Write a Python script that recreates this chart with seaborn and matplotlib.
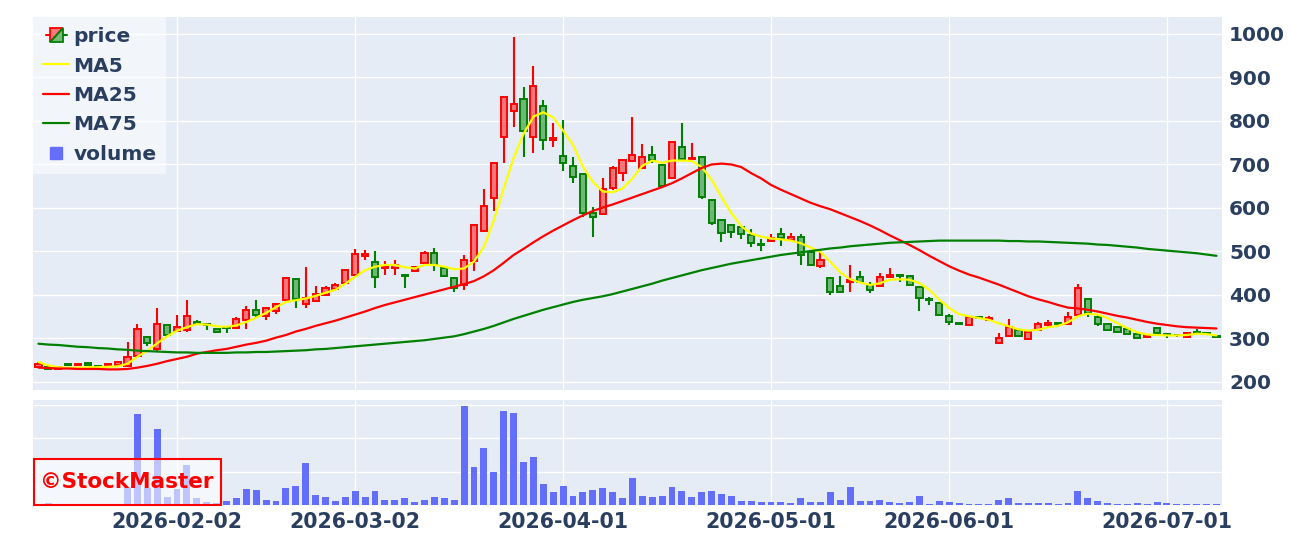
import numpy as np
import pandas as pd
import seaborn as sns
import matplotlib.pyplot as plt
from matplotlib.legend_handler import HandlerBase
from matplotlib.lines import Line2D
from matplotlib.patches import Polygon, Rectangle, Patch

# trading calendar (Tokyo), weekends and holidays are skipped on the axis
START = "2026-01-13"
END = "2026-07-08"
HOLIDAYS = ["2026-02-11", "2026-02-23", "2026-03-20", "2026-04-29",
            "2026-05-04", "2026-05-05", "2026-05-06"]
TICK_DATES = ["2026-02-02", "2026-03-02", "2026-04-01",
              "2026-05-01", "2026-06-01", "2026-07-01"]

OPEN = [235, 234, 229, 241, 239, 244, 236, 239, 238, 237,
        259, 304, 275, 331, 318, 320, 338, 333, 321, 326,
        325, 342, 365, 351, 364, 388, 436, 379, 386, 400,
        413, 428, 446, 490, 475, 462, 462, 446, 456, 473,
        497, 461, 439, 423, 477, 548, 622, 764, 824, 851,
        764, 835, 757, 720, 697, 678, 589, 586, 645, 680,
        708, 691, 721, 699, 670, 741, 713, 718, 618, 572,
        560, 556, 537, 518, 524, 541, 526, 534, 498, 466,
        439, 421, 431, 441, 423, 420, 442, 445, 444, 418,
        391, 381, 351, 335, 332, 349, 343, 290, 306, 320,
        299, 320, 332, 335, 334, 354, 390, 349, 334, 326,
        322, 311, 304, 324, 311, 309, 303, 316, 313, 306]
HIGH = [246, 236, 237, 242, 242, 245, 237, 242, 247, 291,
        333, 306, 371, 333, 354, 388, 342, 333, 322, 326,
        350, 374, 389, 373, 382, 440, 439, 465, 420, 420,
        428, 460, 505, 503, 501, 479, 480, 447, 467, 501,
        507, 467, 441, 492, 562, 643, 706, 856, 994, 879,
        927, 848, 795, 802, 718, 680, 602, 670, 697, 713,
        808, 746, 742, 701, 754, 795, 750, 720, 620, 574,
        561, 560, 551, 528, 540, 555, 542, 540, 501, 502,
        441, 444, 469, 454, 431, 450, 462, 449, 445, 421,
        396, 383, 357, 336, 352, 350, 351, 312, 345, 322,
        318, 337, 343, 336, 360, 425, 392, 353, 336, 327,
        323, 312, 308, 326, 313, 310, 314, 321, 314, 307]
LOW = [232, 229, 228, 238, 238, 238, 234, 238, 236, 235,
       257, 283, 270, 303, 315, 316, 332, 320, 313, 312,
       322, 321, 350, 343, 357, 384, 371, 369, 384, 398,
       410, 425, 442, 481, 416, 446, 447, 416, 453, 471,
       456, 441, 408, 412, 454, 546, 592, 704, 787, 718,
       726, 733, 740, 684, 657, 579, 534, 584, 642, 662,
       706, 689, 704, 648, 668, 709, 711, 621, 560, 522,
       532, 528, 511, 501, 522, 513, 524, 468, 469, 462,
       400, 405, 408, 427, 404, 418, 440, 431, 422, 364,
       377, 353, 331, 331, 330, 344, 342, 288, 304, 303,
       297, 318, 324, 331, 331, 350, 349, 328, 317, 315,
       310, 299, 303, 311, 301, 303, 302, 310, 309, 302]
CLOSE = [242, 231, 235, 239, 241, 239, 235, 241, 245, 258,
         321, 289, 333, 308, 327, 351, 334, 331, 314, 324,
         344, 365, 354, 371, 380, 438, 390, 394, 403, 417,
         424, 457, 495, 494, 441, 467, 468, 443, 465, 496,
         469, 444, 416, 481, 560, 605, 704, 854, 838, 777,
         880, 756, 760, 703, 671, 588, 579, 643, 693, 710,
         722, 718, 710, 651, 752, 712, 716, 625, 565, 543,
         545, 540, 520, 515, 532, 532, 534, 492, 470, 481,
         408, 408, 435, 431, 411, 442, 447, 443, 423, 393,
         388, 355, 337, 333, 349, 347, 347, 301, 326, 305,
         315, 334, 335, 333, 349, 416, 358, 334, 319, 316,
         311, 300, 307, 312, 309, 307, 312, 312, 311, 304]

MA5 = [246, 238, 234, 233, 233, 234, 234, 235, 236, 242,
       258, 272, 289, 305, 318, 326, 333, 332, 328, 327,
       330, 338, 348, 359, 372, 384, 388, 392, 398, 405,
       412, 426, 442, 457, 465, 469, 469, 464, 461, 469,
       469, 465, 459, 461, 477, 511, 572, 645, 715, 770,
       810, 820, 808, 778, 745, 695, 660, 638, 636, 645,
       668, 697, 709, 704, 709, 709, 708, 694, 665, 625,
       588, 558, 541, 534, 530, 528, 525, 519, 509, 499,
       476, 452, 436, 429, 423, 427, 435, 436, 435, 427,
       412, 389, 370, 356, 351, 347, 343, 335, 328, 321,
       318, 320, 326, 329, 337, 351, 357, 355, 347, 335,
       324, 314, 309, 308, 307, 307, 308, 311, 310, 307]
MA25 = [233, 232, 231, 231, 230, 230, 230, 229, 229, 230,
        233, 237, 242, 248, 253, 258, 265, 269, 273, 276,
        281, 286, 290, 295, 302, 308, 316, 322, 329, 335,
        341, 348, 355, 362, 370, 377, 383, 389, 395, 401,
        407, 413, 419, 425, 432, 443, 457, 474, 492, 506,
        521, 535, 548, 560, 572, 583, 593, 601, 608, 616,
        624, 632, 640, 648, 657, 668, 680, 692, 700, 702,
        700, 694, 680, 668, 653, 642, 632, 622, 612, 604,
        597, 588, 579, 570, 560, 549, 537, 526, 515, 503,
        490, 478, 466, 456, 447, 440, 432, 424, 415, 406,
        397, 390, 384, 377, 371, 369, 366, 362, 357, 352,
        348, 343, 338, 334, 331, 328, 326, 325, 324, 323]
MA75 = [288, 286, 285, 283, 281, 280, 278, 277, 275, 274,
        272, 271, 270, 269, 268, 268, 267, 267, 267, 267,
        268, 268, 269, 269, 270, 271, 272, 273, 275, 276,
        278, 280, 282, 284, 286, 288, 290, 292, 294, 296,
        299, 302, 305, 310, 316, 322, 329, 337, 345, 352,
        359, 366, 372, 378, 384, 389, 393, 397, 402, 408,
        414, 420, 426, 433, 439, 445, 451, 457, 462, 467,
        472, 476, 480, 484, 488, 492, 495, 498, 501, 504,
        507, 509, 512, 514, 516, 518, 520, 521, 522, 523,
        524, 525, 525, 525, 525, 525, 525, 525, 524, 524,
        523, 523, 522, 521, 520, 519, 518, 516, 515, 513,
        511, 509, 506, 504, 502, 500, 498, 496, 493, 490]

# volume, in millions of shares
VOLUME = [0.03, 0.05, 0.03, 0.02, 0.02, 0.03, 0.02, 0.02, 0.04, 0.50,
          2.73, 0.50, 2.28, 0.25, 0.47, 1.19, 0.22, 0.10, 0.05, 0.12,
          0.20, 0.48, 0.46, 0.16, 0.13, 0.51, 0.58, 1.26, 0.30, 0.23,
          0.13, 0.23, 0.42, 0.23, 0.42, 0.16, 0.16, 0.20, 0.10, 0.16,
          0.23, 0.20, 0.15, 2.98, 1.15, 1.70, 1.00, 2.81, 2.75, 1.30,
          1.43, 0.64, 0.40, 0.58, 0.28, 0.38, 0.46, 0.50, 0.38, 0.20,
          0.81, 0.28, 0.25, 0.26, 0.53, 0.41, 0.23, 0.40, 0.41, 0.33,
          0.28, 0.13, 0.13, 0.08, 0.10, 0.10, 0.06, 0.20, 0.10, 0.08,
          0.38, 0.14, 0.53, 0.12, 0.12, 0.14, 0.10, 0.06, 0.08, 0.26,
          0.03, 0.12, 0.10, 0.06, 0.04, 0.03, 0.03, 0.14, 0.22, 0.06,
          0.05, 0.05, 0.05, 0.04, 0.05, 0.41, 0.22, 0.11, 0.06, 0.03,
          0.03, 0.06, 0.03, 0.08, 0.05, 0.04, 0.04, 0.04, 0.03, 0.02]

INC_COLOR = "#ff0000"
DEC_COLOR = "#008000"
MA_COLORS = {"MA5": "#ffff00", "MA25": "#ff0000", "MA75": "#008000"}
VOL_COLOR = "#636efa"
TEXT_COLOR = "#2a3f5f"
W, H = 1291, 543


class CandleHandler(HandlerBase):
    """Little red/green candle box for the legend."""
    def create_artists(self, legend, orig_handle, xdescent, ydescent,
                       width, height, fontsize, trans):
        x0, y0 = -xdescent, -ydescent
        bw, bh = width * 0.5, height * 1.0
        bx, by = x0 + (width - bw) / 2, y0 + (height - bh) / 2
        ym = y0 + height / 2
        line_l = Line2D([x0 + width * 0.1, bx], [ym, ym], color=INC_COLOR, lw=1.5, transform=trans)
        line_r = Line2D([bx + bw, x0 + width * 0.9], [ym, ym], color=DEC_COLOR, lw=1.5, transform=trans)
        red = Polygon([[bx, by], [bx, by + bh], [bx + bw, by + bh]], closed=True,
                      facecolor=(1, 0, 0, 0.5), edgecolor=INC_COLOR, lw=1.3, transform=trans)
        green = Polygon([[bx, by], [bx + bw, by], [bx + bw, by + bh]], closed=True,
                        facecolor=(0, 0.5, 0, 0.5), edgecolor=DEC_COLOR, lw=1.3, transform=trans)
        return [line_l, line_r, red, green]


dates = pd.bdate_range(START, END)
dates = dates[~dates.isin(pd.to_datetime(HOLIDAYS))]
pos = np.arange(len(dates))
tick_pos = [dates.get_loc(pd.Timestamp(d)) for d in TICK_DATES]

df = pd.DataFrame({"pos": pos, "Open": OPEN, "High": HIGH, "Low": LOW, "Close": CLOSE,
                   "MA5": MA5, "MA25": MA25, "MA75": MA75, "Volume": VOLUME})

sns.set_theme(style="darkgrid", rc={"axes.facecolor": "#e5ecf6", "grid.color": "white",
                                    "grid.linewidth": 1.0})
plt.rcParams["font.family"] = ["DejaVu Sans"]
plt.rcParams["font.weight"] = "bold"

fig = plt.figure(figsize=(W / 100, H / 100), dpi=100)
ax = fig.add_axes([33 / W, 1 - 390 / H, (1222 - 33) / W, (390 - 17) / H])
axv = fig.add_axes([33 / W, 1 - 505 / H, (1222 - 33) / W, (505 - 400) / H])

# candles
up = df["Close"] >= df["Open"]
body_lo = np.minimum(df["Open"], df["Close"])
body_hi = np.maximum(df["Open"], df["Close"])
line_cols = np.where(up, INC_COLOR, DEC_COLOR)
fill_cols = [(1, 0, 0, 0.5) if u else (0, 0.5, 0, 0.5) for u in up]
ax.vlines(df["pos"], df["Low"], body_lo, colors=line_cols, lw=1.5, zorder=2)
ax.vlines(df["pos"], body_hi, df["High"], colors=line_cols, lw=1.5, zorder=2)
ax.bar(df["pos"], body_hi - body_lo, bottom=body_lo, width=0.62, color=fill_cols,
       edgecolor=line_cols, linewidth=1.4, zorder=3)

# moving averages
ma_long = df.melt(id_vars="pos", value_vars=["MA5", "MA25", "MA75"],
                  var_name="series", value_name="value")
sns.lineplot(data=ma_long, x="pos", y="value", hue="series", palette=MA_COLORS,
             linewidth=1.6, ax=ax, legend=False, zorder=4)

# volume
sns.barplot(data=df, x="pos", y="Volume", native_scale=True, color=VOL_COLOR,
            saturation=1, width=0.7, linewidth=0, errorbar=None, ax=axv)

xlim = (-0.55, 119.56)
for a in (ax, axv):
    a.set_xlim(*xlim)
    a.set_xticks(tick_pos)
    a.set_xlabel("")
    a.set_ylabel("")
    for s in a.spines.values():
        s.set_visible(False)

ax.set_ylim(181.6, 1039)
ax.set_yticks(range(200, 1001, 100))
ax.yaxis.tick_right()
ax.tick_params(axis="y", length=0, pad=5, labelsize=14.5, labelcolor=TEXT_COLOR)
ax.tick_params(axis="x", length=0, labelbottom=False)

axv.set_ylim(0, 3.15)
axv.set_yticks([1, 2, 3])
axv.tick_params(axis="y", length=0, labelleft=False)
axv.set_xticklabels(TICK_DATES)
axv.tick_params(axis="x", length=0, pad=5, labelsize=14.8, labelcolor=TEXT_COLOR)

price_h = Patch()
handles = [price_h] + [Line2D([], [], color=c, lw=1.6) for c in MA_COLORS.values()] + \
          [Line2D([], [], marker="s", linestyle="none", markersize=8, color=VOL_COLOR)]
labels = ["price", "MA5", "MA25", "MA75", "volume"]
leg = ax.legend(handles, labels, loc="upper left", bbox_to_anchor=(0, 1), borderaxespad=0,
                frameon=True, facecolor="white", framealpha=0.5, edgecolor="none",
                fancybox=False, fontsize=14.5, labelcolor=TEXT_COLOR, handlelength=1.3,
                handletextpad=0.2, labelspacing=0.52, borderpad=0.5,
                handler_map={price_h: CandleHandler()})
leg.set_zorder(6)

# watermark
fig.add_artist(Rectangle((34 / W, 1 - 505 / H), 187 / W, 46 / H, transform=fig.transFigure,
                         facecolor=(1, 1, 1, 0.6), edgecolor="red", linewidth=1.5, zorder=10))
fig.text(127 / W, 1 - 482 / H, "\u00a9StockMaster", color="red", fontsize=15.5,
         ha="center", va="center", zorder=11)

fig.savefig("out.png", dpi=100)
